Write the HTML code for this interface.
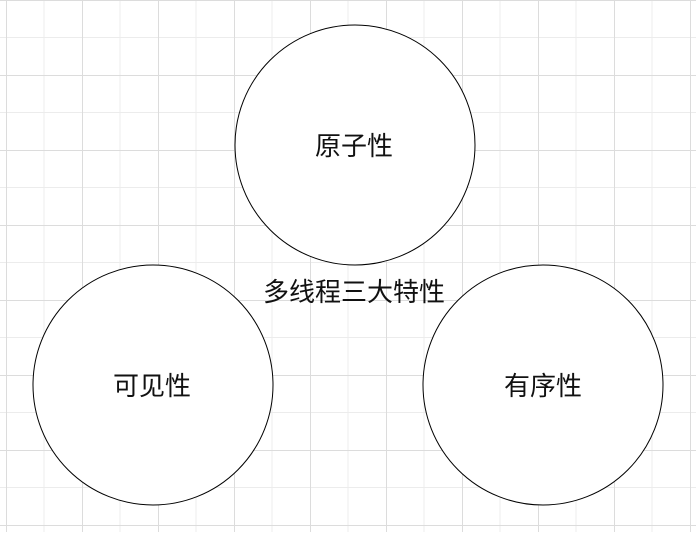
<!DOCTYPE html>
<html><head><meta charset="utf-8"><style>
html,body{margin:0;padding:0;background:#fff;}
body{width:696px;height:532px;overflow:hidden;}
</style></head><body>
<svg width="696" height="532" xmlns="http://www.w3.org/2000/svg">
<defs>
<pattern id="g" x="6" y="0" width="76" height="75" patternUnits="userSpaceOnUse">
<path d="M38 0V75M0 37.5H76" stroke="#ececec" stroke-width="1" fill="none"/>
<path d="M0.5 0V75M0 0.5H76" stroke="#dcdcdc" stroke-width="1" fill="none"/>
</pattern>
</defs>
<rect width="696" height="532" fill="url(#g)"/>
<g fill="#fff" stroke="#000" stroke-width="1">
<circle cx="355" cy="145" r="120"/>
<circle cx="153" cy="385" r="120"/>
<circle cx="543" cy="385" r="120"/>
</g>
<g font-family="Liberation Sans, Noto Sans CJK SC, sans-serif" font-size="26" text-anchor="middle" fill="#111">
<text x="354" y="155">原子性</text>
<text x="152" y="395">可见性</text>
<text x="543" y="395">有序性</text>
<text x="354" y="301">多线程三大特性</text>
</g>
</svg>
</body></html>
